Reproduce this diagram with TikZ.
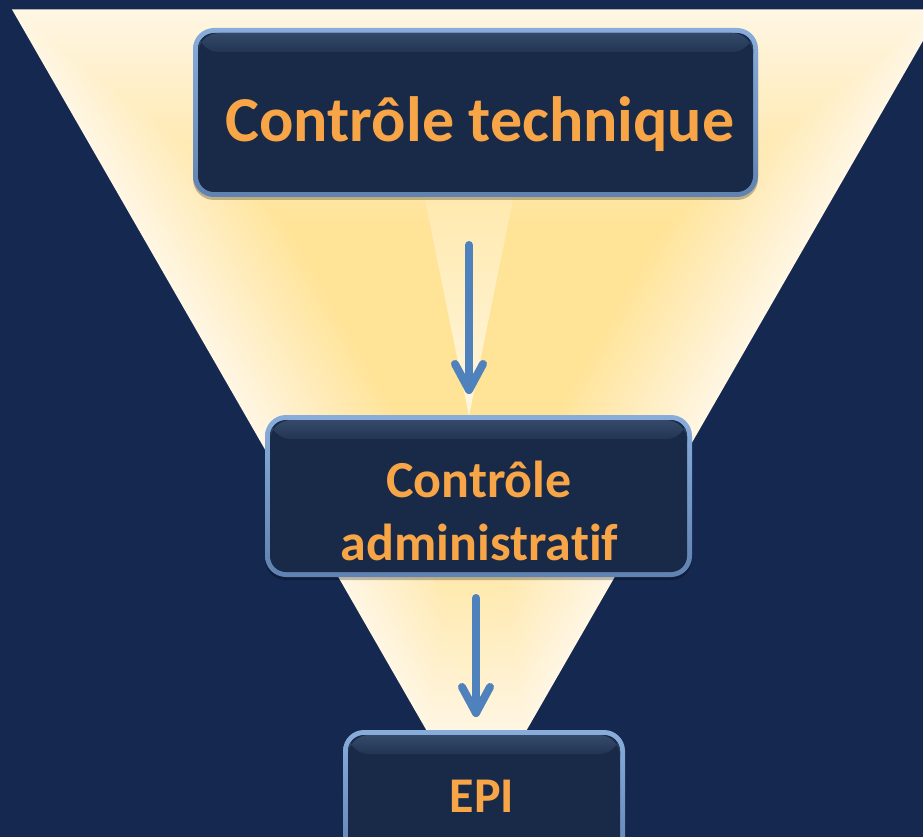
\documentclass[tikz,border=0pt]{standalone}
\usepackage{fontspec}
\setmainfont{Carlito}[Ligatures=NoCommon]
\usetikzlibrary{calc}
\definecolor{bgnavy}{HTML}{15284F}
\definecolor{glowin}{HTML}{FFE396}
\definecolor{glowout}{HTML}{FFF6E3}
\definecolor{beamtop}{HTML}{FFE294}
\definecolor{boxfill}{HTML}{182A47}
\definecolor{boxtop}{HTML}{3E5475}
\definecolor{rimlight}{HTML}{9CC3F0}
\definecolor{rimdark}{HTML}{4C6C9C}
\definecolor{arrowblue}{HTML}{4F81BD}
\definecolor{txtorange}{HTML}{F7A546}
\pgfdeclareverticalshading{beam}{100bp}{color(0bp)=(white); color(35bp)=(white!60!beamtop); color(100bp)=(beamtop)}
\pgfdeclareverticalshading{rim}{100bp}{color(0bp)=(rimdark); color(100bp)=(rimlight)}
\pgfdeclareverticalshading{bevel}{100bp}{color(0bp)=(boxfill); color(100bp)=(boxtop)}
\tikzset{
  box/.style={rounded corners=21pt, shade, shading=rim, inner sep=0pt,
    preaction={fill=black, fill opacity=0.25, transform canvas={yshift=-3pt}},
    path picture={
      \begin{scope}
        \clip[rounded corners=16pt] ([shift={(5pt,-5pt)}]path picture bounding box.north west) rectangle ([shift={(-5pt,5pt)}]path picture bounding box.south east);
        \fill[boxfill] (path picture bounding box.north west) rectangle (path picture bounding box.south east);
        \shade[shading=bevel] ([shift={(5pt,-5pt)}]path picture bounding box.north west) rectangle ([shift={(-5pt,-24pt)}]path picture bounding box.north east);
      \end{scope}
    }},
  lbl/.style={text=txtorange, inner sep=0pt, anchor=base},
  arrowline/.style={draw=arrowblue, line width=8pt, line cap=round, line join=round}
}
\newcommand{\fontA}{\bfseries\fontsize{64}{70}\selectfont}
\newcommand{\fontB}{\bfseries\fontsize{52}{60}\selectfont}
\newcommand{\fontC}{\bfseries\fontsize{50}{60}\selectfont}
\begin{document}
\begin{tikzpicture}[x=1pt,y=-1pt]
\useasboundingbox (0,0) rectangle (923,837);
\clip (0,0) rectangle (923,837);
\fill[bgnavy] (0,0) rectangle (923,837);
% funnel with path gradient
\foreach \i in {0,...,60}{
  \pgfmathsetmacro\s{1-\i/60}
  \pgfmathsetmacro\p{\s>0.4 ? 100*(\s-0.4)/0.6 : 0}
  \fill[glowout!\p!glowin, scale around={\s:(476,371)}] (12,9.5) -- (941,9.5) -- (525,733) -- (428,733) -- cycle;
}
\shade[shading=beam] (423,190) -- (515,190) -- (469,416) -- cycle;
\shade[shading=beam] (433,575) -- (505,575) -- (474,733) -- cycle;
% boxes
\node[box, minimum width=565pt, minimum height=169pt] (b1) at (475.5,112.5) {};
\node[box, minimum width=427pt, minimum height=162pt] (b2) at (478.5,496) {};
\node[box, minimum width=282pt, minimum height=140pt] (b3) at (484,800) {};
% texts
\node[lbl, font=\fontA] (t1) at (480,142) {Contrôle technique};
\node[lbl, font=\fontB] (t2a) at (479,497) {Contrôle};
\node[lbl, font=\fontB] (t2b) at (479.5,560) {administratif};
\node[lbl, font=\fontC] (t3) at (482,812) {EPI};
% arrows
\coordinate (a1s) at (469,245);
\coordinate (a1t) at (469,390);
\coordinate (a2s) at (476,598);
\coordinate (a2t) at (476,713);
\draw[arrowline] (a1s) -- (a1t);
\draw[arrowline] ($(a1t)+(-14,-26)$) -- (a1t) -- ($(a1t)+(14,-26)$);
\draw[arrowline] (a2s) -- (a2t);
\draw[arrowline] ($(a2t)+(-14,-26)$) -- (a2t) -- ($(a2t)+(14,-26)$);
\end{tikzpicture}
\end{document}
